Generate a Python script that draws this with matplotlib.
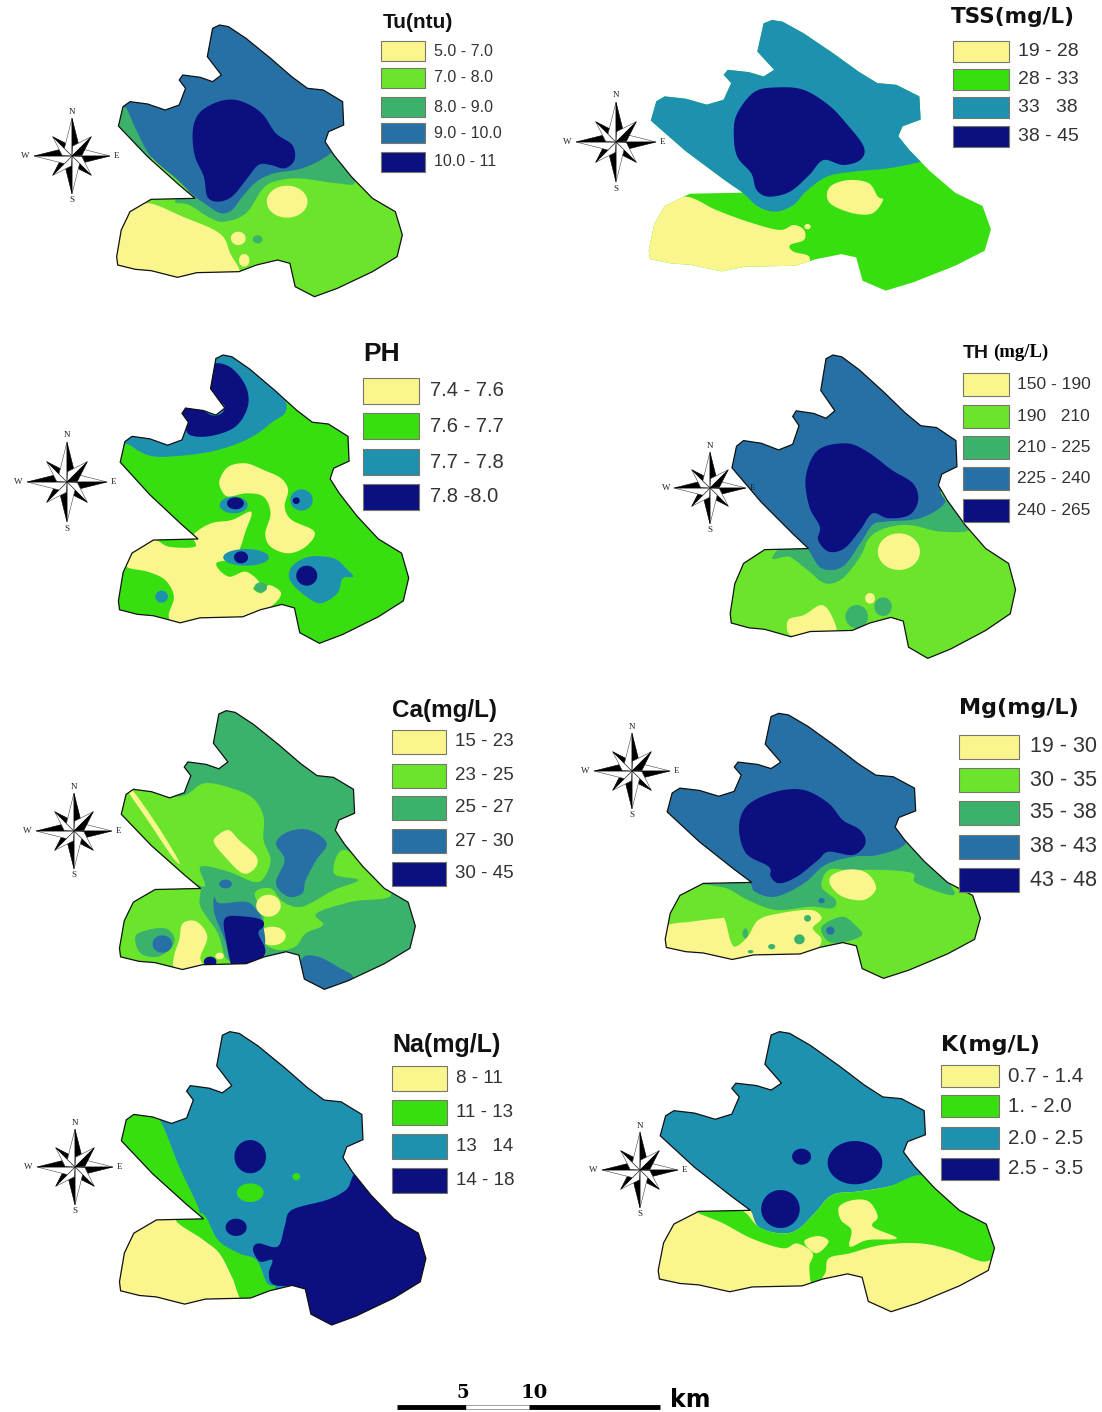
import numpy as np
import matplotlib
matplotlib.use("Agg")
import matplotlib.pyplot as plt
from matplotlib.patches import Polygon, Rectangle

plt.rcParams["font.family"] = ["Liberation Sans", "DejaVu Sans"]

# class colours
YELLOW = "#FBF58E"
LIME = "#6BE52C"
GREEN = "#38DF10"
SEA = "#3BB26C"
BLUE = "#2770A6"
TEAL = "#1F91B0"
NAVY = "#0B0F80"

OUTLINE = [(605, 85), (625, 75), (650, 80), (700, 115), (770, 175), (830, 230), (875, 265), (920, 270),
           (975, 305), (978, 375), (935, 395), (925, 425), (950, 465), (1000, 530), (1060, 595), (1125, 635),
           (1145, 705), (1130, 770), (1060, 815), (960, 865), (895, 890), (840, 860), (825, 790), (790, 780),
           (730, 795), (680, 815), (560, 818), (505, 832), (430, 812), (385, 808), (335, 795), (332, 770),
           (345, 690), (370, 635), (430, 598), (555, 595), (510, 555), (420, 470), (337, 378), (350, 320),
           (370, 305), (420, 312), (470, 330), (510, 315), (528, 265), (510, 240), (520, 225), (570, 232),
           (605, 245), (630, 225), (590, 170)]

# legends
TU_LABELS = ["5.0 - 7.0", "7.0 - 8.0", "8.0 - 9.0", "9.0 - 10.0", "10.0 - 11"]
TSS_LABELS = ["19 - 28", "28 - 33", "33   38", "38 - 45"]
PH_LABELS = ["7.4 - 7.6", "7.6 - 7.7", "7.7 - 7.8", "7.8 -8.0"]
TH_LABELS = ["150 - 190", "190   210", "210 - 225", "225 - 240", "240 - 265"]
CA_LABELS = ["15 - 23", "23 - 25", "25 - 27", "27 - 30", "30 - 45"]
MG_LABELS = ["19 - 30", "30 - 35", "35 - 38", "38 - 43", "43 - 48"]
NA_LABELS = ["8 - 11", "11 - 13", "13   14", "14 - 18"]
K_LABELS = ["0.7 - 1.4", "1. - 2.0", "2.0 - 2.5", "2.5 - 3.5"]

FIVE_COLORS = [YELLOW, LIME, SEA, BLUE, NAVY]
FOUR_COLORS = [YELLOW, GREEN, TEAL, NAVY]

# zones: polygons are vertex lists, blobs are (cx, cy, rx, ry)
TU_ZONES = [
    (SEA, [(320, 300), (360, 320), (395, 395), (430, 480), (330, 480)]),
    (SEA, [(505, 595), (700, 480), (950, 450), (1010, 545), (960, 550), (850, 535), (780, 545), (745, 570),
           (700, 640), (640, 665), (600, 655), (540, 615)]),
    (BLUE, [(340, 300), (600, 0), (1050, 250), (1000, 400), (935, 465), (860, 505), (780, 520), (730, 545),
            (690, 590), (660, 630), (630, 640), (595, 620), (550, 585), (500, 535), (430, 470), (390, 395),
            (360, 325)]),
    (NAVY, [(590, 320), (640, 300), (690, 305), (745, 340), (785, 400), (832, 435), (838, 480), (810, 505),
            (770, 495), (735, 495), (700, 540), (660, 590), (620, 605), (590, 590), (580, 530), (555, 470),
            (548, 400), (560, 350)]),
    (YELLOW, [(425, 610), (520, 650), (625, 700), (655, 760), (680, 830), (560, 835), (505, 850), (430, 830),
              (320, 810), (320, 700), (370, 630)]),
    (YELLOW, (817, 605, 58, 48)),
    (YELLOW, (678, 715, 21, 20)),
    (YELLOW, (695, 781, 15, 19)),
    (SEA, (733, 718, 14, 12)),
]
TSS_ZONES = [
    (TEAL, [(270, 270), (600, 0), (1150, 280), (1100, 470), (1055, 485), (960, 505), (860, 515), (785, 530),
            (725, 575), (690, 615), (640, 635), (590, 620), (545, 578), (510, 555), (270, 420)]),
    (NAVY, [(580, 275), (650, 262), (720, 270), (790, 315), (840, 370), (890, 440), (880, 480), (830, 495),
            (775, 480), (735, 525), (680, 575), (620, 590), (585, 570), (570, 520), (530, 470), (520, 400),
            (530, 340)]),
    (YELLOW, [(385, 590), (470, 630), (560, 665), (650, 690), (690, 675), (720, 690), (720, 720), (680, 735),
              (690, 755), (735, 770), (715, 810), (590, 810), (500, 820), (270, 800), (270, 700), (310, 620)]),
    (YELLOW, [(800, 555), (850, 540), (905, 550), (930, 590), (945, 600), (915, 640), (860, 640), (800, 615),
              (785, 585)]),
    (YELLOW, (730, 680, 9, 8)),
]
PH_ZONES = [
    (TEAL, [(340, 310), (610, 40), (720, 40), (815, 220), (770, 280), (700, 330), (600, 365), (480, 380),
            (420, 375), (370, 345)]),
    (NAVY, [(615, 100), (660, 115), (700, 170), (705, 230), (670, 290), (600, 318), (540, 315), (525, 280),
            (510, 240), (545, 220), (600, 255), (630, 250), (638, 225), (595, 200), (605, 130)]),
    (YELLOW, [(435, 630), (480, 650), (555, 650), (550, 615), (600, 580), (660, 570), (715, 545), (700, 600),
              (670, 680), (615, 700), (650, 740), (700, 725), (740, 760), (720, 775), (745, 790), (765, 765),
              (800, 790), (770, 830), (700, 860), (600, 885), (510, 890), (480, 860), (495, 800), (470, 750),
              (420, 725), (360, 710), (370, 670)]),
    (YELLOW, [(625, 450), (650, 410), (700, 400), (750, 420), (800, 445), (820, 480), (810, 530), (830, 570),
              (895, 605), (870, 650), (820, 670), (770, 650), (755, 610), (770, 550), (750, 500), (700, 490),
              (650, 500), (630, 480)]),
    (TEAL, (665, 525, 40, 25)),
    (TEAL, (858, 510, 32, 32)),
    (TEAL, (700, 682, 65, 25)),
    (TEAL, (460, 800, 18, 18)),
    (SEA, (742, 772, 18, 15)),
    (TEAL, [(830, 710), (880, 680), (950, 685), (985, 715), (1005, 740), (975, 745), (960, 790), (910, 820),
            (860, 790), (825, 750)]),
    (NAVY, (670, 520, 24, 18)),
    (NAVY, (843, 512, 10, 10)),
    (NAVY, (686, 682, 20, 18)),
    (NAVY, (873, 737, 30, 30)),
]
TH_ZONES = [
    (SEA, [(640, 665), (900, 400), (1125, 510), (1195, 595), (1110, 605), (1020, 585), (950, 595), (905, 625),
           (880, 680), (830, 745), (780, 760), (730, 720), (680, 680)]),
    (BLUE, [(490, 330), (780, 20), (1250, 330), (1170, 440), (1110, 480), (1120, 520), (1050, 565), (950, 575),
            (915, 585), (880, 640), (830, 710), (770, 715), (733, 660), (710, 635), (490, 470)]),
    (NAVY, [(760, 360), (840, 340), (900, 365), (970, 420), (1030, 460), (1045, 510), (1020, 555), (960, 565),
            (915, 550), (880, 600), (835, 655), (790, 665), (760, 630), (765, 590), (735, 530), (725, 440)]),
    (YELLOW, (990, 665, 60, 55)),
    (YELLOW, [(675, 870), (720, 855), (770, 825), (800, 860), (810, 915), (740, 915), (680, 915)]),
    (SEA, (870, 860, 32, 35)),
    (SEA, (945, 830, 25, 28)),
    (YELLOW, (908, 805, 14, 16)),
]
CA_ZONES = [
    (LIME, [(330, 350), (375, 320), (510, 350), (580, 310), (660, 325), (720, 355), (750, 410), (750, 480),
            (770, 540), (750, 595), (720, 605), (650, 575), (570, 560), (575, 620), (400, 500), (330, 400)]),
    (LIME, [(430, 625), (560, 615), (570, 680), (620, 760), (640, 830), (670, 870), (500, 890), (320, 850),
            (330, 700)]),
    (SEA, [(385, 770), (420, 750), (470, 745), (495, 770), (490, 800), (450, 830), (400, 820)]),
    (BLUE, (462, 792, 28, 26)),
    (YELLOW, [(520, 730), (560, 725), (590, 770), (570, 830), (575, 865), (500, 865), (495, 830), (510, 780)]),
    (YELLOW, [(365, 335), (380, 335), (450, 440), (510, 545), (490, 530), (420, 420)]),
    (YELLOW, [(615, 470), (650, 450), (680, 480), (730, 530), (725, 565), (690, 580), (640, 530), (610, 490)]),
    (BLUE, [(785, 490), (820, 455), (880, 450), (930, 490), (900, 540), (870, 600), (860, 640), (820, 650),
            (785, 610), (810, 540)]),
    (LIME, [(725, 640), (770, 625), (805, 665), (860, 680), (950, 630), (1020, 600), (950, 580), (985, 510),
            (1115, 640), (1000, 665), (900, 700), (920, 735), (870, 760), (840, 800), (790, 810), (745, 780),
            (750, 710)]),
    (YELLOW, (764, 677, 35, 33)),
    (YELLOW, (775, 768, 38, 28)),
    (YELLOW, (625, 828, 12, 10)),
    (BLUE, [(610, 650), (625, 670), (700, 665), (730, 690), (745, 720), (750, 810), (670, 870), (640, 780),
            (610, 700)]),
    (NAVY, [(640, 715), (700, 710), (745, 720), (750, 740), (735, 760), (755, 820), (700, 870), (665, 870),
            (645, 790)]),
    (NAVY, (598, 845, 18, 15)),
    (BLUE, (642, 612, 18, 13)),
    (BLUE, [(860, 835), (905, 830), (960, 860), (1005, 895), (930, 940), (850, 915)]),
]
MG_ZONES = [
    (SEA, [(430, 610), (560, 600), (800, 500), (1010, 480), (1150, 640), (1040, 610), (1030, 580), (950, 570),
           (850, 570), (790, 570), (770, 620), (810, 660), (800, 685), (740, 680), (640, 690), (560, 660),
           (500, 625)]),
    (BLUE, [(320, 350), (630, 40), (1100, 300), (1050, 400), (990, 420), (1010, 490), (930, 525), (860, 530),
            (780, 555), (720, 610), (640, 650), (580, 635), (545, 590), (320, 430)]),
    (NAVY, [(560, 375), (640, 335), (720, 330), (790, 370), (830, 420), (880, 450), (895, 490), (860, 525),
            (790, 515), (760, 540), (700, 590), (650, 610), (625, 590), (620, 560), (555, 520), (535, 440)]),
    (YELLOW, [(325, 740), (400, 725), (480, 715), (495, 720), (510, 780), (525, 800), (560, 770), (590, 720),
              (650, 700), (740, 690), (770, 715), (745, 745), (770, 780), (740, 825), (650, 840), (510, 845),
              (430, 825), (320, 805)]),
    (YELLOW, [(800, 585), (850, 568), (900, 580), (925, 625), (890, 660), (830, 650), (795, 615)]),
    (SEA, (553, 760, 8, 15)),
    (SEA, (707, 778, 15, 15)),
    (SEA, (628, 800, 10, 8)),
    (SEA, (730, 715, 10, 10)),
    (SEA, (568, 815, 8, 5)),
    (SEA, [(770, 740), (830, 710), (870, 740), (885, 765), (840, 785), (790, 785)]),
    (BLUE, (795, 752, 12, 12)),
    (BLUE, (770, 662, 9, 8)),
]
NA_ZONES = [
    (GREEN, [(320, 350), (380, 280), (420, 290), (460, 340), (510, 470), (570, 610), (540, 620), (400, 560),
             (310, 420)]),
    (YELLOW, [(440, 615), (500, 625), (580, 690), (625, 730), (660, 800), (690, 880), (520, 890), (440, 860),
              (330, 860), (330, 800), (370, 670)]),
    (GREEN, [(500, 630), (575, 610), (620, 690), (680, 730), (730, 750), (760, 820), (785, 830), (740, 870),
             (690, 875), (660, 800), (625, 730), (580, 690)]),
    (NAVY, [(1040, 490), (1250, 690), (1260, 800), (950, 980), (850, 950), (860, 840), (780, 825), (765, 790),
            (775, 750), (740, 755), (720, 720), (735, 700), (790, 710), (810, 650), (830, 600), (930, 570),
            (985, 540)]),
    (NAVY, (712, 440, 45, 50)),
    (NAVY, (672, 652, 30, 26)),
    (GREEN, (712, 548, 38, 28)),
    (GREEN, (843, 500, 11, 11)),
]
K_ZONES = [
    (TEAL, [(300, 300), (640, 0), (1150, 280), (1120, 480), (1050, 500), (960, 530), (870, 545), (800, 555),
            (750, 610), (700, 660), (650, 670), (590, 650), (567, 601), (530, 585), (300, 450)]),
    (GREEN, [(410, 600), (535, 598), (590, 650), (650, 670), (700, 660), (750, 610), (800, 555), (870, 545),
             (960, 530), (1055, 495), (1120, 555), (1245, 640), (1280, 710), (1235, 755), (1140, 720), (1050, 700),
             (940, 705), (850, 730), (790, 745), (780, 790), (745, 830), (735, 770), (745, 730), (700, 700),
             (660, 715), (570, 685), (490, 640)]),
    (YELLOW, [(820, 590), (860, 570), (905, 575), (930, 620), (915, 650), (985, 685), (900, 690), (850, 710),
              (855, 660), (825, 630)]),
    (YELLOW, [(720, 695), (760, 678), (790, 695), (755, 730)]),
    (NAVY, (865, 458, 78, 65)),
    (NAVY, (713, 440, 27, 24)),
    (NAVY, (653, 597, 55, 57)),
]

XS = 1568 / 551
YS = 3.0


def smooth(points, steps=6):
    # closed catmull-rom, goes through the traced vertices
    p = np.asarray(points, dtype=float)
    out = []
    for i in range(len(p)):
        p0, p1, p2, p3 = p[i - 1], p[i], p[(i + 1) % len(p)], p[(i + 2) % len(p)]
        for t in np.arange(steps) / steps:
            out.append(0.5 * (2 * p1 + (p2 - p0) * t + (2 * p0 - 5 * p1 + 4 * p2 - p3) * t ** 2
                              + (3 * p1 - p0 - 3 * p2 + p3) * t ** 3))
    return np.array(out)


def blob(cx, cy, rx, ry):
    t = np.linspace(0, 2 * np.pi, 40, endpoint=False)
    return np.column_stack([cx + rx * np.cos(t), cy + ry * np.sin(t)])


def draw_map(ax, base, zones, origin, bbox, edge=True):
    ox, oy = origin
    x0, x1, y0, y1 = bbox
    to_fig = lambda p: np.column_stack([ox + p[:, 0] / XS, oy + p[:, 1] / YS])

    out = np.asarray(OUTLINE, dtype=float)
    xs = x0 + (out[:, 0] - 332) / (1145 - 332) * (x1 - x0)
    ys = y0 + (out[:, 1] - 75) / (890 - 75) * (y1 - y0)
    shape = to_fig(np.column_stack([xs, ys]))

    land = Polygon(shape, closed=True, facecolor=base, edgecolor="none", zorder=1)
    ax.add_patch(land)
    for z, (color, geom) in enumerate(zones):
        pts = blob(*geom) if isinstance(geom, tuple) else smooth(geom)
        patch = Polygon(to_fig(pts), closed=True, facecolor=color, edgecolor="none", zorder=2 + z * 0.01)
        ax.add_patch(patch)
        patch.set_clip_path(land)
    if edge:
        ax.add_patch(Polygon(shape, closed=True, fill=False, edgecolor="#111111", linewidth=0.9, zorder=3))


def draw_legend(ax, title, labels, colors, x, tops, w, h, label_x, size):
    for top, lab, col in zip(tops, labels, colors):
        ax.add_patch(Rectangle((x, top), w, h, facecolor=col, edgecolor="#77776a", linewidth=0.8, zorder=5))
        ax.text(label_x, top + h / 2, lab, fontsize=size, color="#333333", va="center", ha="left", zorder=6)
    ax.text(title[0], title[1], title[2], fontsize=title[3], fontweight="bold", color="#111111",
            family=title[4], va="center", ha="left", zorder=6)


def draw_compass(ax, cx, cy, r):
    # long points on the axes, shorter ones on the diagonals, half black half white
    for k in range(8):
        ang = k * np.pi / 4
        long_pt = k % 2 == 0
        length = r if long_pt else r * 0.72
        wid = r * 0.2 if long_pt else r * 0.17
        ux, uy = np.cos(ang), np.sin(ang)
        px, py = -uy, ux
        tip = (cx + ux * length, cy + uy * length)
        left = (cx + ux * r * 0.2 + px * wid, cy + uy * r * 0.2 + py * wid)
        right = (cx + ux * r * 0.2 - px * wid, cy + uy * r * 0.2 - py * wid)
        ax.add_patch(Polygon([(cx, cy), right, tip], closed=True, facecolor="white", edgecolor="#444444",
                             linewidth=0.4, zorder=8))
        ax.add_patch(Polygon([(cx, cy), left, tip], closed=True, facecolor="black", edgecolor="black",
                             linewidth=0.4, zorder=8))
    off = r * 1.17
    for lab, dx, dy in [("N", 0, -off), ("S", 0, off), ("E", off, 0), ("W", -off * 1.05, 0)]:
        ax.text(cx + dx, cy + dy, lab, fontsize=6.5, family="Liberation Serif", color="#222222",
                ha="center", va="center", zorder=9)


fig = plt.figure(figsize=(11.02, 14.12), dpi=100)
ax = fig.add_axes([0, 0, 1, 1])
ax.set_xlim(0, 1102)
ax.set_ylim(1412, 0)
ax.axis("off")

draw_map(ax, LIME, TU_ZONES, (0, 0), (332, 1145, 75, 890))
draw_map(ax, GREEN, TSS_ZONES, (551, 0), (278, 1252, 60, 872), edge=False)
draw_map(ax, GREEN, PH_ZONES, (0, 330), (337, 1163, 75, 940))
draw_map(ax, LIME, TH_ZONES, (551, 330), (510, 1322, 75, 985))
draw_map(ax, SEA, CA_ZONES, (0, 680), (340, 1182, 92, 928))
draw_map(ax, LIME, MG_ZONES, (551, 680), (325, 1222, 100, 895))
draw_map(ax, TEAL, NA_ZONES, (0, 1010), (340, 1212, 65, 945))
draw_map(ax, YELLOW, K_ZONES, (551, 1010), (305, 1262, 65, 905))

SANS = "Liberation Sans"
WIDE = "DejaVu Sans"
draw_legend(ax, (383, 23, "Tu(ntu)", 15, SANS), TU_LABELS, FIVE_COLORS, 381, [41, 68, 97, 123, 152], 44, 20, 434, 11.5)
draw_legend(ax, (951, 17, "TSS(mg/L)", 15.5, WIDE), TSS_LABELS, FOUR_COLORS, 953, [41, 69, 97, 126], 56, 21, 1018, 14)
draw_legend(ax, (363, 354, "PH", 19, SANS), PH_LABELS, FOUR_COLORS, 363, [378, 413, 449, 484], 56, 26, 430, 14.5)
draw_legend(ax, (963, 353, "TH", 14, SANS), TH_LABELS, FIVE_COLORS, 963, [373, 405, 436, 467, 499], 46, 23, 1017, 12.5)
ax.text(993, 352, "(mg/L)", fontsize=13.5, fontweight="bold", family="Liberation Serif", va="center", zorder=6)
draw_legend(ax, (392, 711, "Ca(mg/L)", 17.5, SANS), CA_LABELS, FIVE_COLORS, 392, [730, 764, 796, 829, 862], 54, 24, 455, 13.5)
draw_legend(ax, (959, 708, "Mg(mg/L)", 16, WIDE), MG_LABELS, FIVE_COLORS, 959, [735, 768, 801, 835, 868], 60, 24, 1030, 15.5)
draw_legend(ax, (392, 1045, "Na(mg/L)", 18, SANS), NA_LABELS, FOUR_COLORS, 392, [1066, 1100, 1134, 1168], 55, 25, 456, 13.5)
draw_legend(ax, (941, 1045, "K(mg/L)", 16, WIDE), K_LABELS, FOUR_COLORS, 941, [1065, 1095, 1127, 1158], 58, 22, 1008, 14.8)

for cx, cy, r in [(72, 156, 38), (616, 142, 40), (67, 482, 40), (710, 488, 36),
                  (74, 831, 38), (632, 771, 38), (75, 1167, 38), (640, 1170, 38)]:
    draw_compass(ax, cx, cy, r)

# scale bar
ax.plot([397, 466], [1407, 1407], color="black", linewidth=3.5, solid_capstyle="butt")
ax.plot([466, 529], [1407, 1407], color="#999999", linewidth=3.5, solid_capstyle="butt")
ax.plot([466, 529], [1407, 1407], color="white", linewidth=2.2, solid_capstyle="butt")
ax.plot([529, 660], [1407, 1407], color="black", linewidth=3.5, solid_capstyle="butt")
ax.text(463, 1393, "5", fontsize=13, fontweight="bold", family="DejaVu Serif", ha="center", va="center")
ax.text(534, 1393, "10", fontsize=14, fontweight="bold", family="DejaVu Serif", ha="center", va="center")
ax.text(670, 1400, "km", fontsize=17, fontweight="bold", family="DejaVu Sans", ha="left", va="center")

fig.savefig("out.png", dpi=100, facecolor="white")
